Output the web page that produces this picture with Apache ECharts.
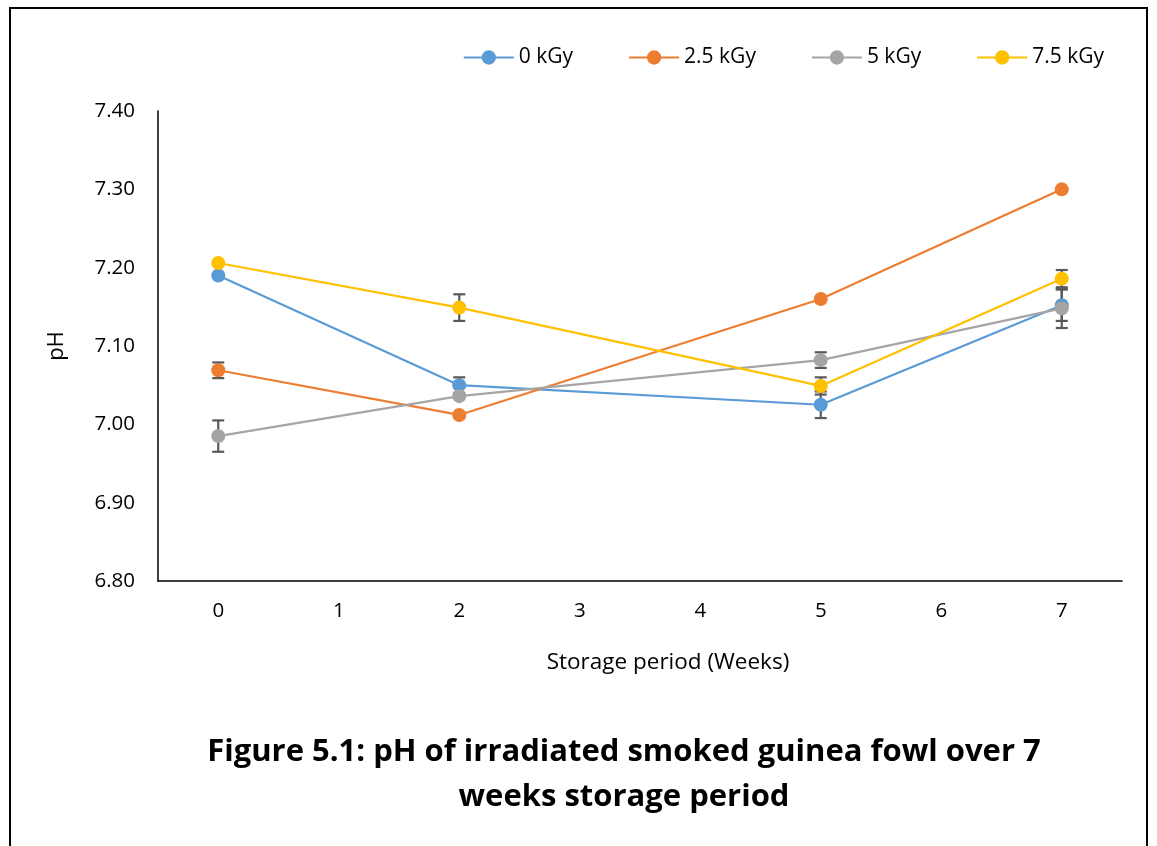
<!DOCTYPE html>
<html>
<head>
<meta charset="utf-8">
<script src="https://cdn.jsdelivr.net/npm/echarts@6/dist/echarts.min.js"></script>
<style>
  html, body { margin: 0; padding: 0; background: #fff; }
  #chart { width: 1157px; height: 846px; }
</style>
</head>
<body>
<div id="chart"></div>
<script>
  // storage weeks on the axis and the weeks that were sampled
  var weeks = ['0', '1', '2', '3', '4', '5', '6', '7'];
  var sampled = ['0', '2', '5', '7'];
  var doseNames = ['0 kGy', '2.5 kGy', '5 kGy', '7.5 kGy'];
  var colors = ['#5B9BD5', '#ED7D31', '#A5A5A5', '#FFC000'];

  // mean pH per dose
  var ph0 = [7.190, 7.050, 7.025, 7.152];
  var ph25 = [7.069, 7.012, 7.160, 7.300];
  var ph5 = [6.985, 7.036, 7.082, 7.148];
  var ph75 = [7.206, 7.149, 7.049, 7.186];

  // +/- error
  var err0 = [0, 0.010, 0.017, 0.020];
  var err25 = [0.010, 0, 0, 0];
  var err5 = [0.020, 0, 0.010, 0.025];
  var err75 = [0, 0.017, 0.011, 0.011];

  var means = [ph0, ph25, ph5, ph75];
  var errs = [err0, err25, err5, err75];

  var series = [];
  // error bars first so markers sit on top
  means.forEach(function (m, s) {
    var d = [];
    m.forEach(function (v, i) {
      if (errs[s][i] > 0) d.push([sampled[i], v - errs[s][i], v + errs[s][i]]);
    });
    series.push({
      type: 'custom',
      name: doseNames[s] + ' err',
      z: 1,
      silent: true,
      renderItem: function (params, api) {
        var lo = api.coord([api.value(0), api.value(1)]);
        var hi = api.coord([api.value(0), api.value(2)]);
        var w = 6;
        var st = { stroke: '#595959', lineWidth: 2.2 };
        return {
          type: 'group',
          children: [
            { type: 'line', shape: { x1: lo[0], y1: lo[1], x2: hi[0], y2: hi[1] }, style: st },
            { type: 'line', shape: { x1: lo[0] - w, y1: lo[1], x2: lo[0] + w, y2: lo[1] }, style: st },
            { type: 'line', shape: { x1: hi[0] - w, y1: hi[1], x2: hi[0] + w, y2: hi[1] }, style: st }
          ]
        };
      },
      encode: { x: 0, y: [1, 2] },
      data: d
    });
  });
  means.forEach(function (m, s) {
    series.push({
      type: 'line',
      name: doseNames[s],
      z: 3,
      symbol: 'circle',
      symbolSize: 14,
      lineStyle: { width: 2.2, color: colors[s] },
      itemStyle: { color: colors[s] },
      data: m.map(function (v, i) { return [sampled[i], v]; })
    });
  });

  var font = '"Open Sans", "Liberation Sans", sans-serif';
  var chart = echarts.init(document.getElementById('chart'));
  var option = {
    animation: false,
    color: colors,
    textStyle: { fontFamily: font },
    legend: {
      data: doseNames,
      top: 42,
      right: 48,
      itemWidth: 50,
      itemHeight: 18,
      itemGap: 55,
      textStyle: { fontSize: 21, color: '#000', fontFamily: font }
    },
    grid: { left: 158, right: 35, top: 111, bottom: 265 },
    xAxis: {
      type: 'category',
      data: weeks,
      boundaryGap: true,
      name: 'Storage period (Weeks)',
      nameLocation: 'middle',
      nameGap: 70,
      nameTextStyle: { fontSize: 22.5, color: '#000', padding: [0, 0, 0, 56] },
      axisLine: { lineStyle: { color: '#000', width: 1.5 } },
      axisTick: { show: false },
      axisLabel: { fontSize: 20.5, color: '#000', margin: 20 }
    },
    yAxis: {
      type: 'value',
      min: 6.8,
      max: 7.4,
      interval: 0.1,
      name: 'pH',
      nameLocation: 'middle',
      nameGap: 90,
      nameTextStyle: { fontSize: 22, color: '#000' },
      axisLine: { show: true, lineStyle: { color: '#000', width: 1.5 } },
      axisTick: { show: false },
      splitLine: { show: false },
      axisLabel: {
        fontSize: 20.5, color: '#000', margin: 23,
        formatter: function (v) { return v.toFixed(2); }
      }
    },
    graphic: [
      {
        type: 'rect',
        shape: { x: 10, y: 8, width: 1137, height: 860 },
        style: { fill: 'none', stroke: '#000', lineWidth: 2 },
        silent: true
      },
      {
        type: 'text',
        x: 624,
        y: 730,
        style: {
          text: 'Figure 5.1: pH of irradiated smoked guinea fowl over 7\nweeks storage period',
          fontSize: 31,
          fontWeight: 'bold',
          fontFamily: font,
          fill: '#000',
          align: 'center',
          lineHeight: 45
        }
      }
    ],
    series: series
  };
  chart.setOption(option);
</script>
</body>
</html>
